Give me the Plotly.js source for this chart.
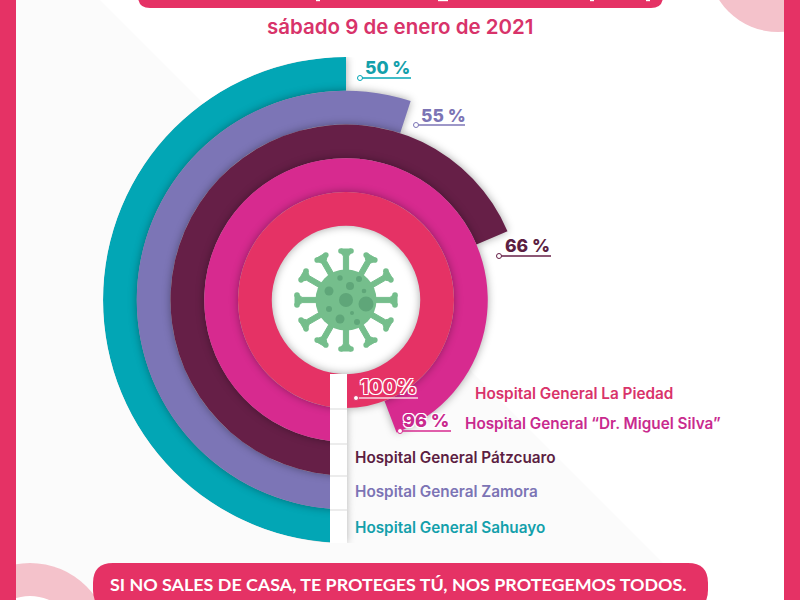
<!DOCTYPE html>
<html>
<head>
<meta charset="utf-8">
<script src="https://cdn.plot.ly/plotly-3.0.1.min.js"></script>
<style>html,body{margin:0;padding:0;background:#fff}</style>
</head>
<body>
<div id="fig" style="width:800px;height:600px"></div>
<script>
// outer ring first
var hospitals = ['Hospital General Sahuayo', 'Hospital General Zamora', 'Hospital General Pátzcuaro', 'Hospital General “Dr. Miguel Silva”', 'Hospital General La Piedad'];
var pctLabels = ['50 %', '55 %', '66 %', '96 %', '100%'];
// how far each arc really runs in the picture, in percent of the circle
var arcPct = [50, 55, 68.6, 94.2, 100];
var ringBase = [4, 3, 2, 1, 0];
var ringColors = ['#02a6b5', '#7c75b6', '#661f47', '#d72a8f', '#e53265'];
var nameColors = ['#13a0ab', '#7c74b5', '#5c1e42', '#c92a8e', '#d9336a'];

var pink = '#e53265', virus = '#75be8c', spot = '#5fa679';
var X = function (x) { return x / 800; };
var Y = function (y) { return 1 - y / 600; };

function rect(x0, y0, x1, y1, color) {
  return { type: 'rect', xref: 'paper', yref: 'paper', x0: X(x0), y0: Y(y0), x1: X(x1), y1: Y(y1), fillcolor: color, line: { width: 0 } };
}
function circle(cx, cy, r, color, layer) {
  return { type: 'circle', xref: 'paper', yref: 'paper', x0: X(cx - r), y0: Y(cy - r), x1: X(cx + r), y1: Y(cy + r), fillcolor: color, line: { width: 0 }, layer: layer || 'below' };
}
function poly(pts, color, layer, lw) {
  var d = pts.map(function (p, i) { return (i ? 'L' : 'M') + X(p[0]) + ',' + Y(p[1]); }).join(' ') + ' Z';
  return { type: 'path', xref: 'paper', yref: 'paper', path: d, fillcolor: color, line: { width: lw || 0, color: color }, layer: layer || 'below' };
}
function banner(x0, y0, x1, y1, r) {
  var d = 'M' + X(x0 + r) + ',' + Y(y0) + ' L' + X(x1 - r) + ',' + Y(y0) +
    ' Q' + X(x1) + ',' + Y(y0) + ' ' + X(x1) + ',' + Y(y0 + r) +
    ' L' + X(x1) + ',' + Y(y1 - r) + ' Q' + X(x1) + ',' + Y(y1) + ' ' + X(x1 - r) + ',' + Y(y1) +
    ' L' + X(x0 + r) + ',' + Y(y1) + ' Q' + X(x0) + ',' + Y(y1) + ' ' + X(x0) + ',' + Y(y1 - r) +
    ' L' + X(x0) + ',' + Y(y0 + r) + ' Q' + X(x0) + ',' + Y(y0) + ' ' + X(x0 + r) + ',' + Y(y0) + ' Z';
  return { type: 'path', xref: 'paper', yref: 'paper', path: d, fillcolor: pink, line: { width: 0 }, layer: 'below' };
}
function leaderLine(x0, x1, y, color) {
  return { type: 'line', xref: 'paper', yref: 'paper', x0: X(x0), x1: X(x1), y0: Y(y), y1: Y(y), line: { color: color, width: 1.3 }, layer: 'above' };
}
function dot(x, y, color) {
  return { type: 'circle', xref: 'paper', yref: 'paper', x0: X(x - 2.5), x1: X(x + 2.5), y0: Y(y - 2.5), y1: Y(y + 2.5), fillcolor: '#fff', line: { color: color, width: 1 }, layer: 'above' };
}

var shapes = [
  poly([[16, 0], [100, 0], [700, 600], [16, 600]], '#fbfbfb'),
  circle(778, -38, 70, '#f4c2cb'),
  circle(30, 643, 80, '#f4c2cb'),
  circle(30, 643, 47, '#ffffff'),
  rect(0, 0, 16, 600, pink),
  rect(784, 0, 800, 600, pink),
  banner(138, -30, 663, 8, 12),
  banner(93, 563, 708, 610, 20),
  circle(346, 300, 75, '#ffffff')
];

// bottoms of the cut off headline letters
[[316, 320], [438, 448], [590, 594], [646, 650]].forEach(function (m) {
  shapes.push(rect(m[0], 0, m[1], 1.2, '#fff'));
});

// white tab over the start of the rings
shapes.push(Object.assign(rect(330, 374, 347, 543, '#ffffff'), { layer: 'above' }));
[408, 443, 475, 509].forEach(function (y) {
  shapes.push(Object.assign(rect(330, y, 347, y + 2, '#ececec'), { layer: 'above' }));
});

// virus in the centre
var cx = 346, cy = 300;
for (var k = 0; k < 12; k++) {
  var a = k * Math.PI / 6, c = Math.cos(a), s = Math.sin(a);
  var pt = function (r, w) { return [cx + s * r + c * w, cy - c * r + s * w]; };
  shapes.push(poly([pt(26, -2.6), pt(44, -2.6), pt(47, -5), pt(51, -5), pt(51, 5), pt(47, 5), pt(44, 2.6), pt(26, 2.6)], virus, 'above', 1));
  [-5, 5].forEach(function (w) {
    var tip = pt(49, w);
    shapes.push(circle(tip[0], tip[1], 2.8, virus, 'above'));
  });
}
shapes.push(circle(cx, cy, 30.5, virus, 'above'));
[[0, 0, 7], [20, 4, 7.5], [-17, -9, 4.5], [4, -14, 4], [-6, -22, 2.7], [13, -21, 3], [18, -9, 2.3], [-17, 9, 3], [6, 13, 2], [-6, 19, 4.5], [11, 22, 3]].forEach(function (b) {
  shapes.push(circle(cx + b[0], cy + b[1], b[2], spot, 'above'));
});

// leaders for the percent labels
var leaders = [[360, 411, 78], [416, 465, 125], [499, 551, 256], [400, 451, 431], [356, 418, 398]];
var lineColors = ['#02a6b5', '#7c75b6', '#661f47', '#d72a8f', '#f7d3de'];
leaders.forEach(function (l, i) {
  shapes.push(leaderLine(l[0], l[1], l[2], lineColors[i]));
  shapes.push(dot(l[0], l[2], i == 4 ? '#d9336a' : lineColors[i]));
});

var font = 'Inter, sans-serif';
var halo = '-1px -1px 0 #fff,1px -1px 0 #fff,-1px 1px 0 #fff,1px 1px 0 #fff';
function label(text, x, y, color, size, anchor, extra) {
  return {
    xref: 'paper', yref: 'paper', x: X(x), y: Y(y), text: text, showarrow: false, xanchor: anchor || 'left', yanchor: 'middle',
    font: Object.assign({ family: font, size: size, color: color, weight: 600 }, extra || {})
  };
}
var annotations = [
  label('sábado 9 de enero de 2021', 400, 26, '#d8336a', 20.5, 'center'),
  label('SI NO SALES DE CASA, TE PROTEGES TÚ, NOS PROTEGEMOS TODOS.', 398, 584, '#ffffff', 17.9, 'center', { family: 'Lato, sans-serif', weight: 700 })
];
var nameX = [353, 353, 353, 463, 473], nameY = [527, 491, 457, 423, 393];
hospitals.forEach(function (h, i) {
  annotations.push(label(h, nameX[i], nameY[i], nameColors[i], 15.3));
});
var pctX = [363, 419, 503, 401, 358], pctY = [67.5, 115.5, 245.5, 420, 386.5];
var pctSize = [17.5, 17.5, 17.5, 18, 20];
pctLabels.forEach(function (p, i) {
  var extra = i >= 3 ? { shadow: halo, weight: 800 } : { weight: 800 };
  annotations.push(label(p, pctX[i], pctY[i], i == 4 ? pink : nameColors[i], pctSize[i], 'left', extra));
});

var rings = {
  type: 'barpolar',
  r: arcPct.map(function () { return 1; }),
  base: ringBase,
  theta: arcPct.map(function (v) { return v * 1.8; }),
  width: arcPct.map(function (v) { return v * 3.6; }),
  marker: { color: ringColors, line: { width: 0 } },
  hoverinfo: 'skip'
};

var layout = {
  width: 800, height: 600,
  margin: { l: 0, r: 0, t: 0, b: 0 },
  paper_bgcolor: '#ffffff',
  showlegend: false,
  polar: {
    domain: { x: [X(103), X(589)], y: [Y(543), Y(57)] },
    bgcolor: 'rgba(0,0,0,0)',
    radialaxis: { visible: false, range: [-2.2, 5] },
    angularaxis: { visible: false, rotation: -90, direction: 'clockwise', thetaunit: 'degrees' }
  },
  shapes: shapes,
  annotations: annotations
};

Plotly.newPlot('fig', [rings], layout, { displayModeBar: false, staticPlot: true }).then(function () {
  // soft shadow each ring throws on the one under it
  document.querySelectorAll('.polarlayer .barlayer path').forEach(function (p) {
    p.style.filter = 'drop-shadow(0 0 4px rgba(0,0,0,0.35))';
  });
});
</script>
</body>
</html>
